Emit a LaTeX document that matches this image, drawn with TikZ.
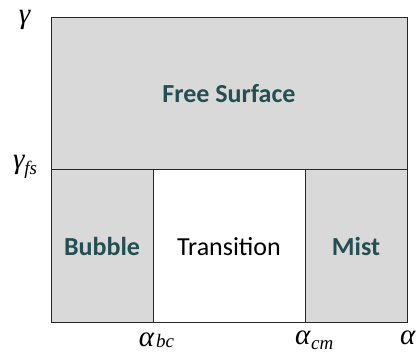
\documentclass[tikz,border=0pt]{standalone}
\usepackage{fontspec}
\setmainfont{Carlito}
\newfontfamily\tms{Liberation Serif}
\definecolor{regfill}{HTML}{D9D9D9}
\definecolor{tealtext}{RGB}{35,78,82}
\begin{document}
\begin{tikzpicture}[x=1pt,y=1pt,
  region/.style={draw=black!85, line width=1pt, fill=regfill, inner sep=0pt, outer sep=0pt,
    anchor=north west, font=\fontsize{26}{26}\selectfont\bfseries, text=tealtext},
  plainregion/.style={region, fill=white, font=\fontsize{26}{26}\selectfont, text=black},
  lab/.style={inner sep=0pt, outer sep=0pt, anchor=base west, font=\tms\itshape\fontsize{29}{29}\selectfont}]
\useasboundingbox (0,0) rectangle (416,353);
\node[region, minimum width=356pt, minimum height=152pt] (fs) at (51,335) {Free Surface};
\node[region, minimum width=102pt, minimum height=153pt] (bub) at (51,183) {Bubble};
\node[plainregion, minimum width=152pt, minimum height=153pt] (tr) at (153,183) {Transition};
\node[region, minimum width=102pt, minimum height=153pt] (mist) at (305,183) {Mist};
\node[lab] (g) at (19,329) {γ};
\node[lab] (gfs) at (13,184) {γ\kern0pt\raisebox{-6pt}{\fontsize{19}{19}\selectfont fs}};
\node[lab] (abc) at (139,6) {α\kern2pt\raisebox{-1pt}{\fontsize{19}{19}\selectfont bc}};
\node[lab] (acm) at (295,8) {α\kern1pt\raisebox{-5pt}{\fontsize{19}{19}\selectfont cm}};
\node[lab] (a) at (400,8) {α};
\end{tikzpicture}
\end{document}
